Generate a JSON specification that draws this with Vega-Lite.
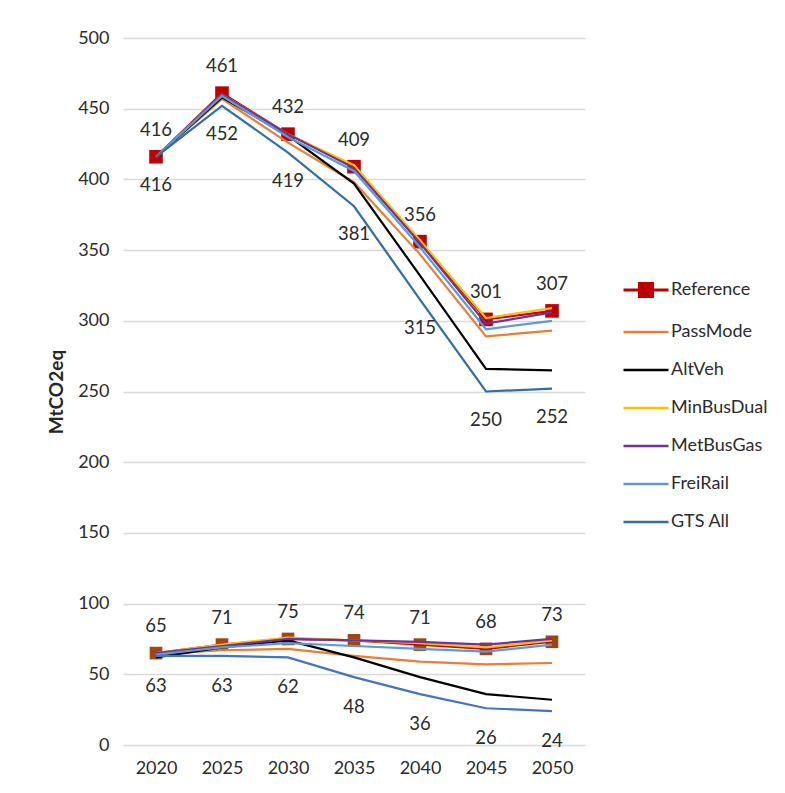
{
  "$schema": "https://vega.github.io/schema/vega-lite/v6.json",
  "autosize": {"type": "none"},
  "width": 462,
  "height": 707,
  "padding": {"left": 123, "top": 38, "right": 200, "bottom": 48},
  "background": "white",
  "config": {
    "font": "Lato",
    "view": {"stroke": null},
    "axis": {"labelFont": "Lato", "titleFont": "Lato", "labelColor": "#2B2B2B", "titleColor": "#262626"}
  },
  "data": {
    "values": [
      {"year": "2020", "band": "upper", "Reference": 416, "PassMode": 416, "AltVeh": 416, "MinBusDual": 416, "MetBusGas": 416, "FreiRail": 416, "GTS All": 416},
      {"year": "2025", "band": "upper", "Reference": 461, "PassMode": 457, "AltVeh": 458, "MinBusDual": 460, "MetBusGas": 460, "FreiRail": 459, "GTS All": 452},
      {"year": "2030", "band": "upper", "Reference": 432, "PassMode": 426, "AltVeh": 431, "MinBusDual": 432, "MetBusGas": 432, "FreiRail": 430, "GTS All": 419},
      {"year": "2035", "band": "upper", "Reference": 409, "PassMode": 398, "AltVeh": 397, "MinBusDual": 410, "MetBusGas": 408, "FreiRail": 406, "GTS All": 381},
      {"year": "2040", "band": "upper", "Reference": 356, "PassMode": 347, "AltVeh": 332, "MinBusDual": 357, "MetBusGas": 355, "FreiRail": 352, "GTS All": 315},
      {"year": "2045", "band": "upper", "Reference": 301, "PassMode": 289, "AltVeh": 266, "MinBusDual": 302, "MetBusGas": 298, "FreiRail": 294, "GTS All": 250},
      {"year": "2050", "band": "upper", "Reference": 307, "PassMode": 293, "AltVeh": 265, "MinBusDual": 309, "MetBusGas": 306, "FreiRail": 300, "GTS All": 252},
      {"year": "2020", "band": "lower", "Reference": 65, "PassMode": 64, "AltVeh": 62, "MinBusDual": 65, "MetBusGas": 65, "FreiRail": 64, "GTS All": 63},
      {"year": "2025", "band": "lower", "Reference": 71, "PassMode": 67, "AltVeh": 69, "MinBusDual": 71, "MetBusGas": 70, "FreiRail": 69, "GTS All": 63},
      {"year": "2030", "band": "lower", "Reference": 75, "PassMode": 68, "AltVeh": 74, "MinBusDual": 76, "MetBusGas": 75, "FreiRail": 72, "GTS All": 62},
      {"year": "2035", "band": "lower", "Reference": 74, "PassMode": 63, "AltVeh": 62, "MinBusDual": 74, "MetBusGas": 74, "FreiRail": 70, "GTS All": 48},
      {"year": "2040", "band": "lower", "Reference": 71, "PassMode": 59, "AltVeh": 48, "MinBusDual": 72, "MetBusGas": 73, "FreiRail": 68, "GTS All": 36},
      {"year": "2045", "band": "lower", "Reference": 68, "PassMode": 57, "AltVeh": 36, "MinBusDual": 69, "MetBusGas": 71, "FreiRail": 66, "GTS All": 26},
      {"year": "2050", "band": "lower", "Reference": 73, "PassMode": 58, "AltVeh": 32, "MinBusDual": 74, "MetBusGas": 75, "FreiRail": 71, "GTS All": 24}
    ]
  },
  "transform": [
    {"fold": ["Reference", "PassMode", "AltVeh", "MinBusDual", "MetBusGas", "FreiRail", "GTS All"], "as": ["scenario", "value"]}
  ],
  "encoding": {
    "x": {
      "field": "year", "type": "ordinal",
      "scale": {"type": "point", "padding": 0.5},
      "axis": {"title": null, "labelAngle": 0, "labelFontSize": 18, "labelPadding": 14, "ticks": false, "domain": false, "grid": false}
    },
    "y": {
      "field": "value", "type": "quantitative",
      "scale": {"domain": [0, 500], "nice": false},
      "axis": {
        "title": "MtCO2eq", "titleFontSize": 19, "titleFontWeight": "bold", "titlePadding": 11,
        "values": [0, 50, 100, 150, 200, 250, 300, 350, 400, 450, 500],
        "labelFontSize": 18, "labelPadding": 14, "ticks": false, "domain": false,
        "grid": true, "gridColor": "#D9D9D9", "gridWidth": 1.3
      }
    }
  },
  "layer": [
    {
      "transform": [{"filter": "datum.band === 'upper' && datum.scenario === 'Reference'"}],
      "mark": {"type": "square", "filled": true, "color": "#C00000", "size": 185, "opacity": 1}
    },
    {
      "transform": [{"filter": "datum.band === 'lower' && datum.scenario === 'Reference'"}],
      "mark": {"type": "square", "filled": true, "color": "#9E480E", "size": 160, "opacity": 1}
    },
    {
      "transform": [{"filter": "datum.band === 'lower'"}],
      "mark": {"type": "line", "strokeWidth": 2.2},
      "encoding": {
        "color": {
          "field": "scenario", "type": "nominal",
          "scale": {
            "domain": ["Reference", "PassMode", "AltVeh", "MinBusDual", "MetBusGas", "FreiRail", "GTS All"],
            "range": ["#C00000", "#ED7D31", "#000000", "#FFC000", "#7030A0", "#5B9BD5", "#4472C4"]
          },
          "legend": null
        }
      }
    },
    {
      "transform": [{"filter": "datum.band === 'upper'"}],
      "mark": {"type": "line", "strokeWidth": 2.2},
      "encoding": {
        "color": {
          "field": "scenario", "type": "nominal",
          "scale": {
            "domain": ["Reference", "PassMode", "AltVeh", "MinBusDual", "MetBusGas", "FreiRail", "GTS All"],
            "range": ["#C00000", "#ED7D31", "#000000", "#FFC000", "#7030A0", "#5B9BD5", "#2F6EA9"]
          },
          "legend": {
            "title": null, "orient": "none", "legendX": 514, "legendY": 243,
            "symbolType": "M-1.5,0H1.5", "symbolSize": 900, "symbolStrokeWidth": 2.5,
            "labelFont": "Lato", "labelFontSize": 18, "labelColor": "#2B2B2B",
            "labelOffset": 16, "rowPadding": 20,
            "encode": {
              "symbols": {
                "update": {
                  "shape": {"signal": "datum.value === 'Reference' ? 'M-1.5,0H1.5M-0.43,-0.43H0.43V0.43H-0.43Z' : 'M-1.5,0H1.5'"},
                  "fill": {"signal": "datum.value === 'Reference' ? '#C00000' : 'transparent'"},
                  "strokeWidth": {"signal": "datum.value === 'Reference' ? 3.2 : 2.5"}
                }
              }
            }
          }
        }
      }
    },
    {
      "transform": [{"filter": "datum.scenario === 'Reference'"}],
      "mark": {"type": "text", "dy": -27, "fontSize": 18.5, "font": "Lato", "color": "#2B2B2B"},
      "encoding": {"text": {"field": "value", "type": "quantitative"}}
    },
    {
      "transform": [{"filter": "datum.scenario === 'GTS All' && datum.band === 'upper'"}],
      "mark": {"type": "text", "dy": 28, "fontSize": 18.5, "font": "Lato", "color": "#2B2B2B"},
      "encoding": {"text": {"field": "value", "type": "quantitative"}}
    },
    {
      "transform": [{"filter": "datum.scenario === 'GTS All' && datum.band === 'lower'"}],
      "mark": {"type": "text", "dy": 30, "fontSize": 18.5, "font": "Lato", "color": "#2B2B2B"},
      "encoding": {"text": {"field": "value", "type": "quantitative"}}
    }
  ],
  "resolve": {"scale": {"color": "independent"}, "legend": {"color": "independent"}}
}
